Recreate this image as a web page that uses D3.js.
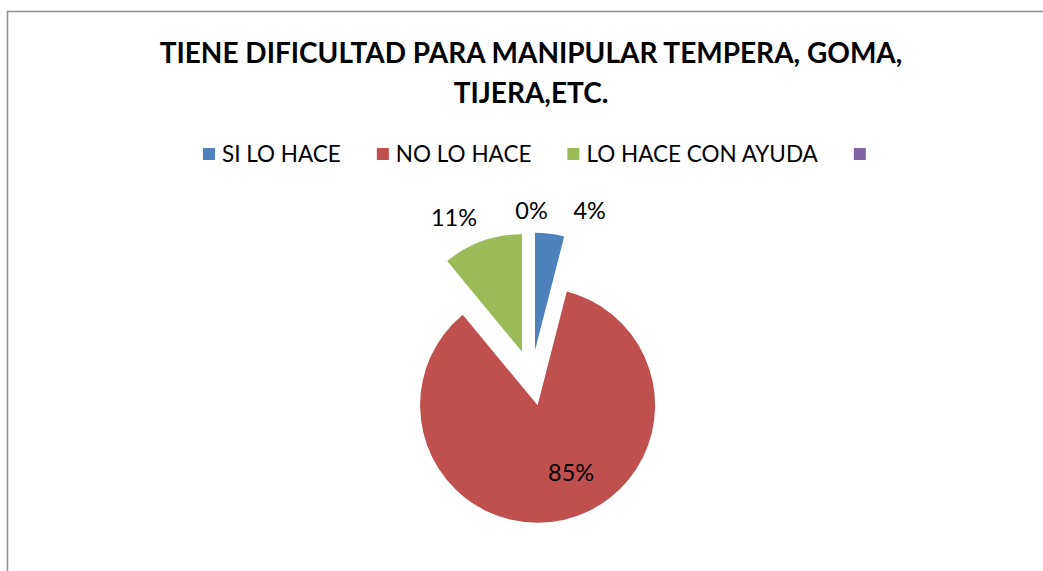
<!DOCTYPE html>
<html>
<head>
<meta charset="utf-8">
<script src="https://cdn.jsdelivr.net/npm/d3@7"></script>
<style>
  body { margin: 0; background: #fff; }
  svg { display: block; }
</style>
</head>
<body>
<div id="chart"></div>
<script>
// chart data
const titleLines = ["TIENE DIFICULTAD PARA MANIPULAR TEMPERA, GOMA,", "TIJERA,ETC."];
const categories = ["SI LO HACE", "NO LO HACE", "LO HACE CON AYUDA", ""];
const values = [4, 85, 11, 0];
const colors = ["#4F81BD", "#C0504D", "#9BBB59", "#8064A2"];

const width = 1043, height = 571;
const font = "Lato, 'Open Sans', sans-serif";

const svg = d3.select("#chart").append("svg")
    .attr("width", width)
    .attr("height", height);

//outer chart border (runs off the right and bottom of the shot)
svg.append("rect")
    .attr("x", 7.5)
    .attr("y", 11.5)
    .attr("width", width + 20)
    .attr("height", height + 20)
    .attr("fill", "#fff")
    .attr("stroke", "#8c8c8c")
    .attr("stroke-width", 1.5);

//title
svg.append("text")
    .attr("text-anchor", "middle")
    .attr("font-family", font)
    .attr("font-weight", "bold")
    .attr("font-size", 28)
    .selectAll("tspan")
    .data(titleLines)
    .enter().append("tspan")
    .attr("x", 531)
    .attr("y", (d, i) => 63 + i * 40)
    .text(d => d);

//legend
const legend = svg.append("g")
    .attr("font-family", font)
    .attr("font-size", 22.5);

let lx = 203;
categories.forEach((c, i) => {
    legend.append("rect")
        .attr("x", lx)
        .attr("y", 148)
        .attr("width", 12)
        .attr("height", 12)
        .attr("fill", colors[i]);
    const t = legend.append("text")
        .attr("x", lx + 19)
        .attr("y", 162)
        .attr("fill", "#000")
        .text(c);
    lx += 19 + t.node().getComputedTextLength() + 36;
});

//pie
const radius = 117.5;
const explode = 28;
const cx = 531.5, cy = 378;

const pie = d3.pie().sort(null).value(d => d);
const arcs = pie(values);

const arc = d3.arc().innerRadius(0).outerRadius(radius);

const pieG = svg.append("g")
    .attr("transform", "translate(" + cx + "," + cy + ")");

pieG.selectAll(".slice")
    .data(arcs)
    .enter().append("path")
    .attr("class", "slice")
    .attr("d", arc)
    .attr("fill", (d, i) => colors[i])
    .attr("transform", d => {
        const mid = (d.startAngle + d.endAngle) / 2;
        return "translate(" + (Math.sin(mid) * explode) + "," + (-Math.cos(mid) * explode) + ")";
    });

//labels: outside for small slices, inside for the big one
//nudge in degrees so labels don't sit on top of each other (like excel's best fit)
const labelNudge = [12, -10, -6, 0];
const labelRad = [177, 103, 178, 167];

pieG.selectAll(".lbl")
    .data(arcs)
    .enter().append("text")
    .attr("class", "lbl")
    .attr("font-family", font)
    .attr("font-size", 23.5)
    .attr("text-anchor", "middle")
    .attr("dy", "0.35em")
    .attr("x", (d, i) => {
        const mid = (d.startAngle + d.endAngle) / 2 + labelNudge[i] * Math.PI / 180;
        return Math.sin(mid) * labelRad[i];
    })
    .attr("y", (d, i) => {
        const mid = (d.startAngle + d.endAngle) / 2 + labelNudge[i] * Math.PI / 180;
        return -Math.cos(mid) * labelRad[i];
    })
    .text(d => d3.format(".0%")(d.value / d3.sum(values)));
</script>
</body>
</html>
